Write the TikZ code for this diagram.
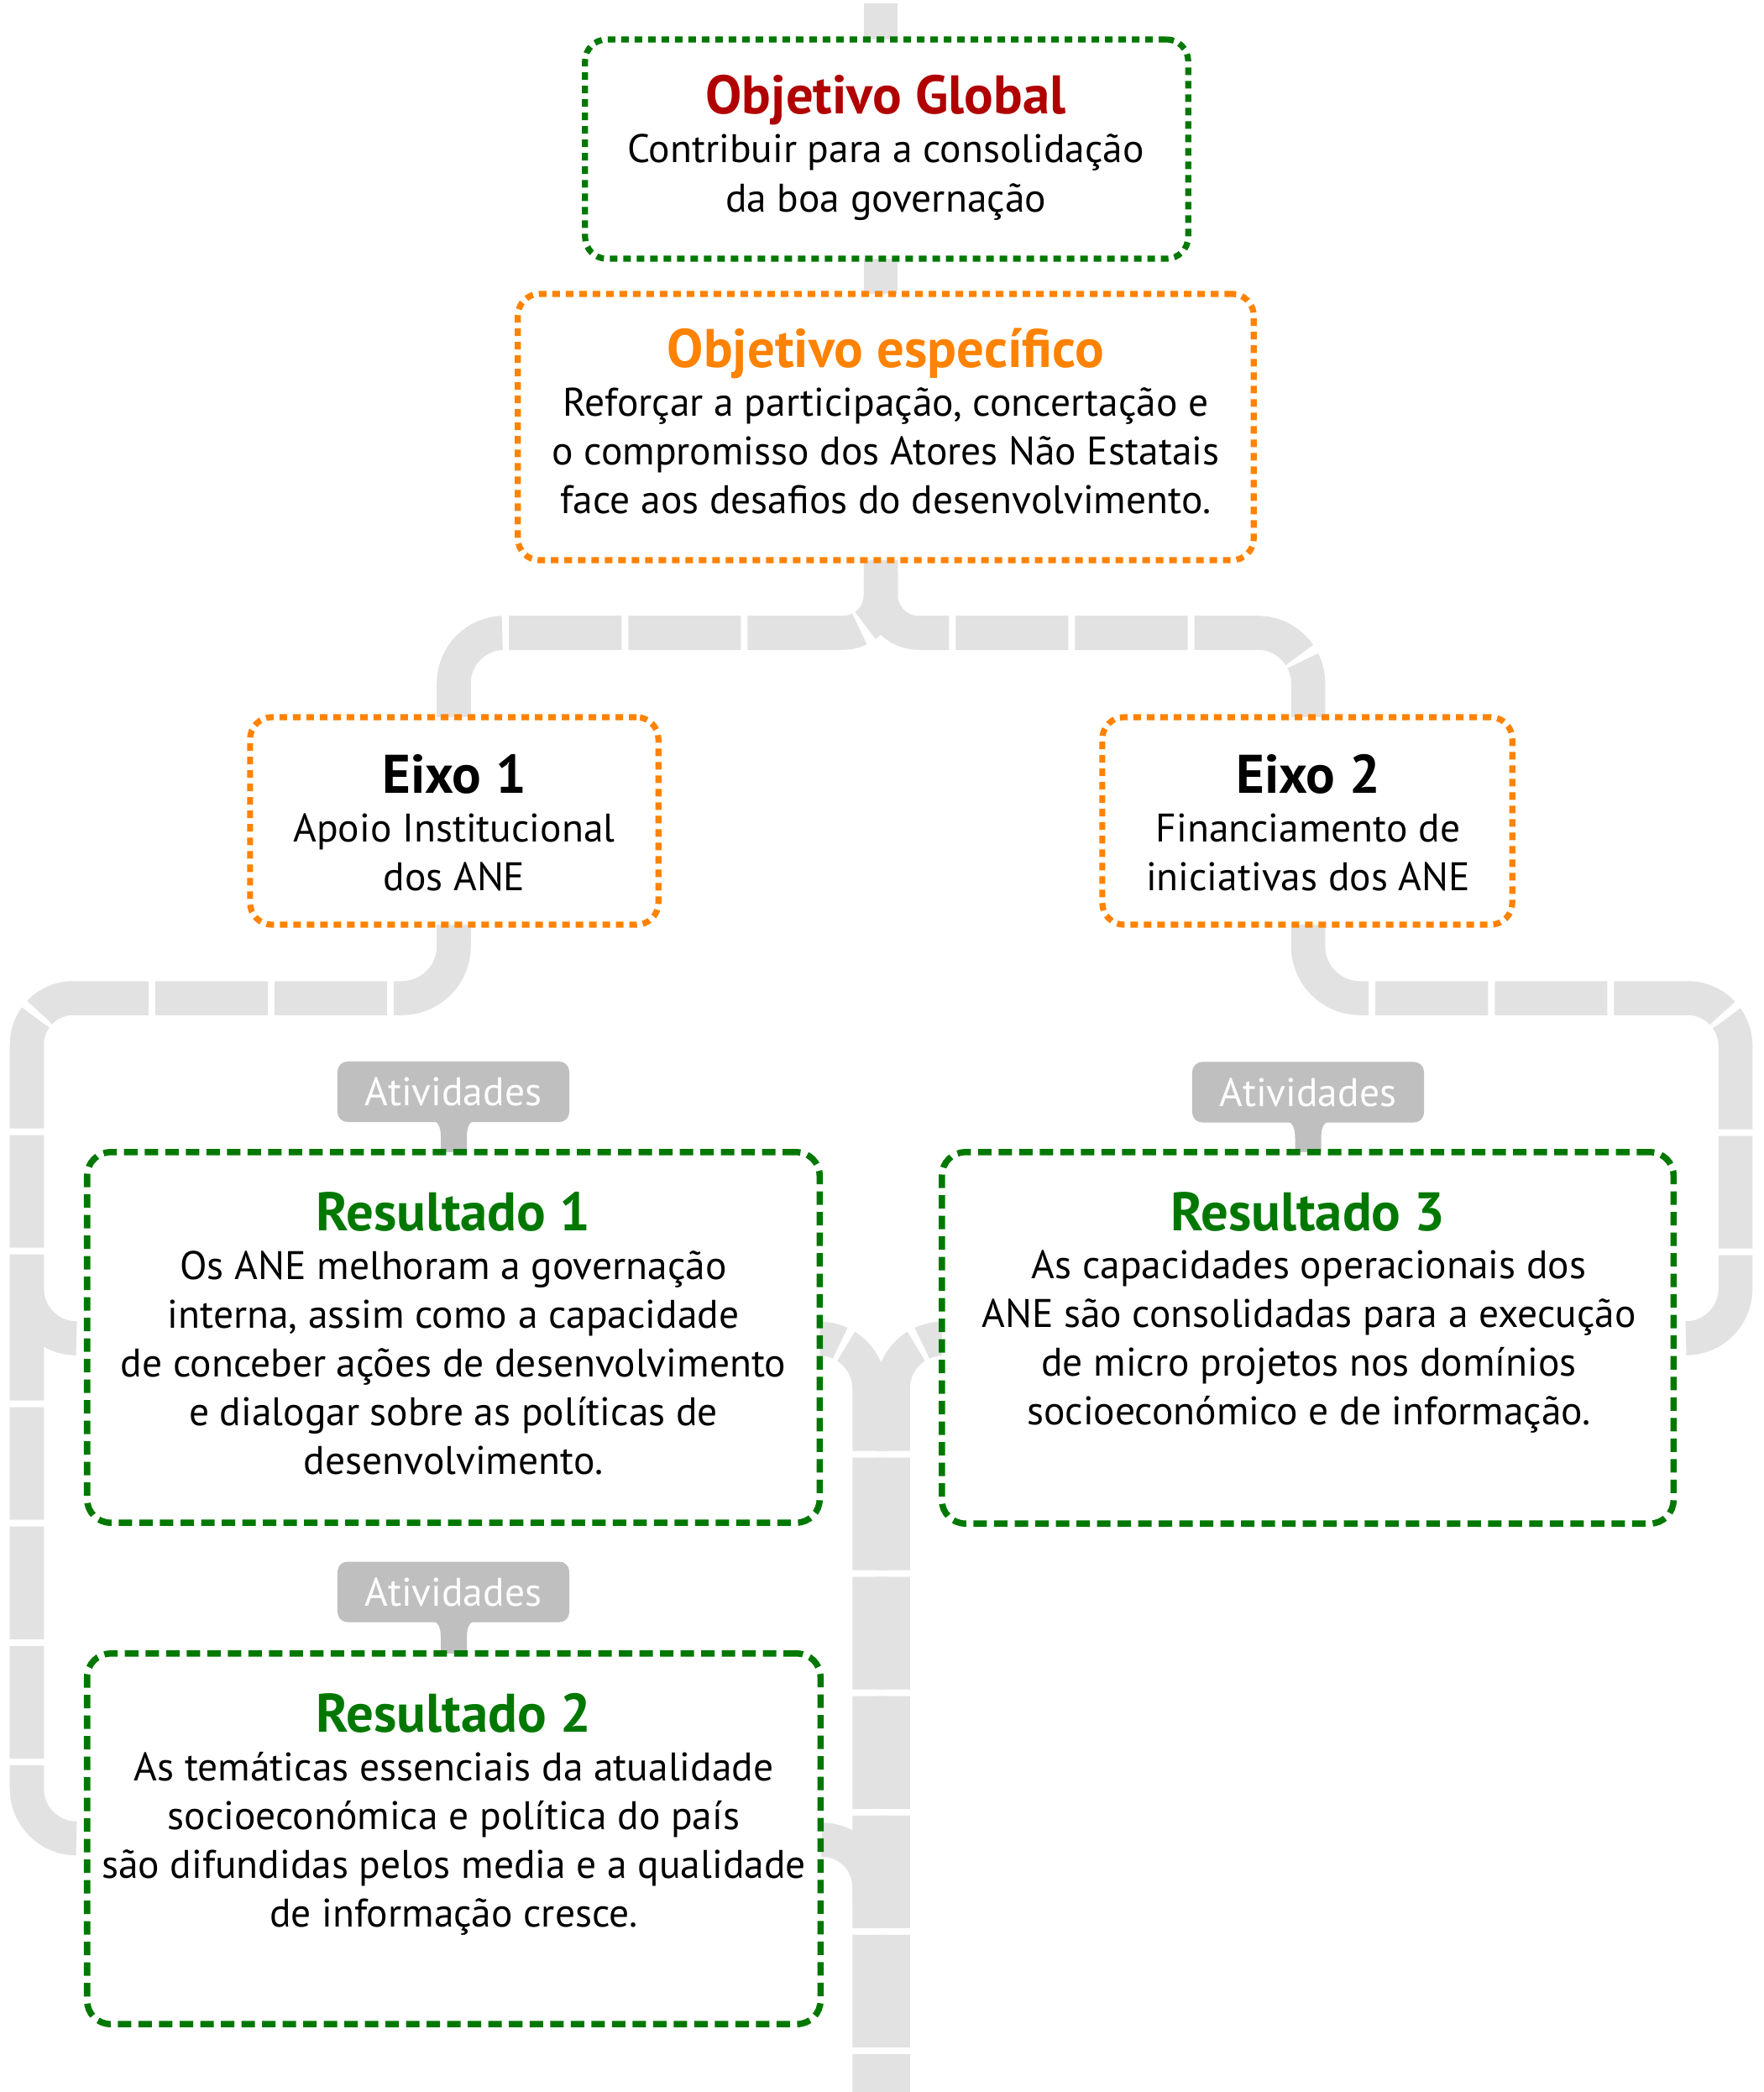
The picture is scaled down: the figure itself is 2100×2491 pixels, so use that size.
\documentclass[tikz,border=0pt]{standalone}
\usepackage{fontspec}
\setmainfont{PT Sans}
\definecolor{pipegrey}{HTML}{E2E2E2}
\definecolor{tabgrey}{HTML}{BFBFBF}
\definecolor{okgreen}{HTML}{007800}
\definecolor{okorange}{HTML}{FF8200}
\definecolor{okred}{HTML}{B00000}
\newcommand\bodyfont{\fontsize{13.5pt}{16.5pt}\selectfont}
\newcommand\titlefont{\fontsize{18.4pt}{21pt}\selectfont\bfseries}
\tikzset{
  pipe/.style={draw=pipegrey, line width=0.405cm, line cap=butt, dash pattern=on 1.34cm off 0.08cm},
  solidpipe/.style={draw=pipegrey, line width=0.405cm, line cap=butt},
  boxbase/.style={rectangle, rounded corners=0.26cm, fill=white, inner sep=0pt, line width=0.072cm},
  dotgreen/.style={boxbase, draw=okgreen, dash pattern=on 0.09cm off 0.07cm},
  dotorange/.style={boxbase, draw=okorange, dash pattern=on 0.09cm off 0.07cm},
  dashgreen/.style={boxbase, draw=okgreen, dash pattern=on 0.16cm off 0.085cm, line width=0.075cm, rounded corners=0.28cm},
  tab/.style={rectangle, rounded corners=0.12cm, fill=tabgrey, inner sep=0pt, minimum width=2.76cm, minimum height=0.72cm, text=white, font=\bodyfont},
  bodyline/.style={anchor=base, inner sep=0pt, font=\bodyfont},
  titleline/.style={anchor=base, inner sep=0pt, font=\titlefont},
}
\newcommand\boxlines[4]{%
  \foreach \ln [count=\i] in {#4} {\node[bodyline] (#1-\i) at (#2, {#3+58*(\i-1)}) {\ln};}%
}
\newcommand\drawtail[3]{%
  \fill[tabgrey] ({#1-27.5},#2) .. controls ({#1-18.5},#2) and ({#1-15.5},{#2+8}) .. ({#1-15.5},{#2+20})
    -- ({#1-15.5},#3) -- ({#1+15.5},#3) -- ({#1+15.5},{#2+20})
    .. controls ({#1+15.5},{#2+8}) and ({#1+18.5},#2) .. ({#1+27.5},#2) -- cycle;%
}
\begin{document}
\begin{tikzpicture}[x=0.01cm, y=-0.01cm]
\fill[white] (0,0) rectangle (2100,2491);
\useasboundingbox (0,0) rectangle (2100,2491);

% ---- named junction coordinates
\coordinate (top) at (1049,4);
\coordinate (sbot) at (1049,667);

% ---- pipes
\draw[solidpipe] (top) -- (1049,680);
% left branch from Objetivo especifico to Eixo 1
\draw[pipe, dash phase=0.503cm] (sbot) -- (1049,708.5)
  .. controls (1049,733.35) and (1028.85,753.5) .. (1004,753.5) -- (600.5,753.5)
  .. controls (567.36,753.5) and (540.5,780.36) .. (540.5,813.5) -- (540.5,860);
% right branch to Eixo 2
\draw[pipe, dash phase=1.276cm] (sbot) -- (1049,708.5)
  .. controls (1049,733.35) and (1069.15,753.5) .. (1094,753.5) -- (1498,753.5)
  .. controls (1531.14,753.5) and (1558,780.36) .. (1558,813.5) -- (1558,860);
% Eixo 1 to Resultado 1
\draw[pipe, dash phase=1.3761cm] (540.5,1095) -- (540.5,1126.5)
  .. controls (540.5,1160.74) and (512.74,1188.5) .. (478.5,1188.5) -- (87,1188.5)
  .. controls (56.62,1188.5) and (32,1213.12) .. (32,1243.5) -- (32,1534.5)
  .. controls (32,1567.09) and (58.41,1593.5) .. (91,1593.5);
% continuation to Resultado 2
\draw[pipe, dash phase=0.025cm] (32,1536) -- (32,2130)
  .. controls (32,2162.59) and (58.41,2189) .. (91,2189);
% Eixo 2 to Resultado 3
\draw[pipe, dash phase=1.37cm] (1558,1095) -- (1558,1126.5)
  .. controls (1558,1160.74) and (1585.76,1188.5) .. (1620,1188.5) -- (2010,1188.5)
  .. controls (2041.48,1188.5) and (2067,1214.02) .. (2067,1245.5) -- (2067,1534.5)
  .. controls (2067,1567.09) and (2040.59,1593.5) .. (2008,1593.5);
% merge into the trunk
\draw[pipe, dash phase=1.0864cm] (976,1594)
  .. controls (1008.86,1594) and (1035.5,1620.64) .. (1035.5,1653.5) -- (1035.5,2491);
\draw[pipe, dash phase=1.0881cm] (1122.7,1594)
  .. controls (1090,1594) and (1063.5,1620.5) .. (1063.5,1653.2) -- (1063.5,2491);
\draw[solidpipe] (979,2190.5)
  .. controls (1010.2,2190.5) and (1035.5,2215.8) .. (1035.5,2247) -- (1035.5,2265);

% ---- tab tails
\drawtail{540.5}{1334}{1372}
\drawtail{1558}{1335}{1372}
\drawtail{540.5}{1930}{1969}

% ---- boxes
\node[dotgreen, minimum width=7.18cm, minimum height=2.61cm] (G) at (1056,177.5) {};
\node[dotorange, minimum width=8.76cm, minimum height=3.17cm] (S) at (1055,508.5) {};
\node[dotorange, minimum width=4.86cm, minimum height=2.47cm] (E1) at (541,977.5) {};
\node[dotorange, minimum width=4.88cm, minimum height=2.47cm] (E2) at (1557,977.5) {};
\node[dashgreen, minimum width=8.72cm, minimum height=4.41cm] (R1) at (540,1592.5) {};
\node[dashgreen, minimum width=8.73cm, minimum height=4.41cm] (R2) at (540.5,2189.5) {};
\node[dashgreen, minimum width=8.71cm, minimum height=4.42cm] (R3) at (1557.5,1593) {};

% ---- tabs
\node[tab] (A1) at (540,1300) {Atividades};
\node[tab] (A3) at (1558,1300.5) {Atividades};
\node[tab] (A2) at (540,1895.5) {Atividades};

% ---- texts
\node[titleline, text=okred] (Gt) at (1055,136) {Objetivo Global};
\boxlines{Gl}{1055}{194}{{Contribuir para a consolidação},{da boa governação}}
\node[titleline, text=okorange] (St) at (1055,437.5) {Objetivo específico};
\boxlines{Sl}{1055}{495.5}{{Reforçar a participação, concertação e},{o compromisso dos Atores Não Estatais},{face aos desafios do desenvolvimento.}}
\node[titleline] (E1t) at (541,944) {Eixo 1};
\boxlines{E1l}{541}{1002}{{Apoio Institucional},{dos ANE}}
\node[titleline] (E2t) at (1558,944) {Eixo 2};
\boxlines{E2l}{1558}{1002}{{Financiamento de},{iniciativas dos ANE}}
\node[titleline, text=okgreen] (R1t) at (540,1465.5) {Resultado 1};
\boxlines{R1l}{540}{1523.5}{{Os ANE melhoram a governação},{interna, assim como a capacidade},{de conceber ações de desenvolvimento},{e dialogar sobre as políticas de},{desenvolvimento.}}
\node[titleline, text=okgreen] (R3t) at (1558,1465.8) {Resultado 3};
\boxlines{R3l}{1559}{1522.5}{{As capacidades operacionais dos},{ANE são consolidadas para a execução},{de micro projetos nos domínios},{socioeconómico e de informação.}}
\node[titleline, text=okgreen] (R2t) at (540.5,2062) {Resultado 2};
\boxlines{R2l}{540.5}{2120}{{As temáticas essenciais da atualidade},{socioeconómica e política do país},{são difundidas pelos media e a qualidade},{de informação cresce.}}
\end{tikzpicture}
\end{document}
